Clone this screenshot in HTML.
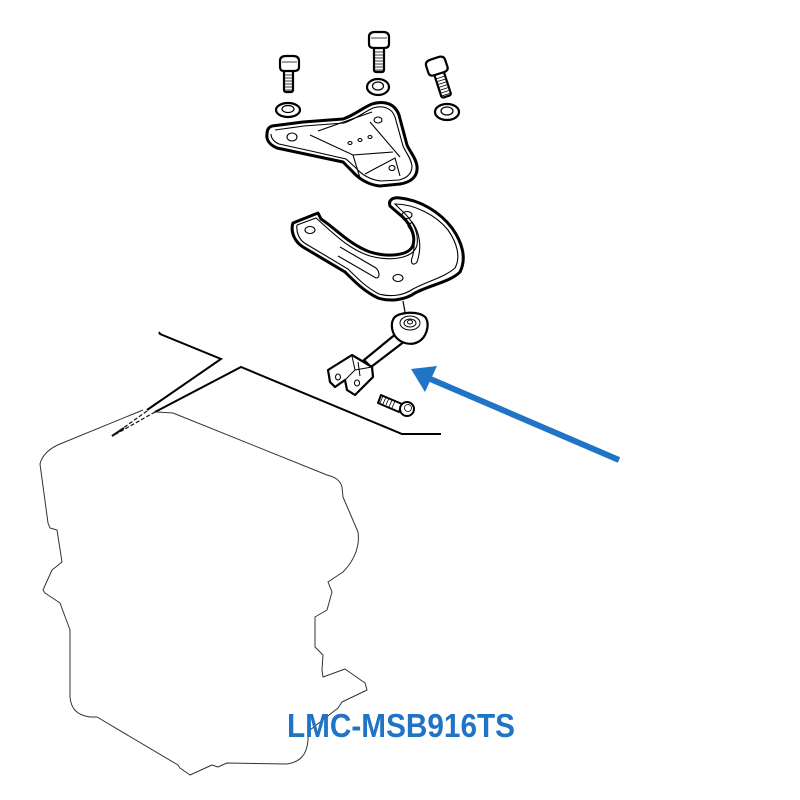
<!DOCTYPE html>
<html><head><meta charset="utf-8"><style>html,body{margin:0;padding:0;background:#fff}svg{display:block}</style></head>
<body>
<svg width="800" height="800" viewBox="0 0 800 800" xmlns="http://www.w3.org/2000/svg">
<rect width="800" height="800" fill="#fff"/>

<!-- Engine outline -->
<g fill="none" stroke="#333" stroke-width="1" stroke-linejoin="round">
<path d="M143,410 L60,444 C50,448 42,455 40,464 L48,523 L50,528 L57,530 L62,562 L52,570 L43,590 L45,593 L60,603 L70,630 L70,697 C71,708 76,715 90,717 L97,717 L178,765 L180,768 L190,775 L212,765 L218,767 L227,763 L287,764 C300,762 307,755 308,740 L308,733 L310,730 L338,708 L342,702 L367,690 L365,683 L345,669 L323,677 L322,670 L323,655 L315,647 L315,617 L327,610 L332,592 L328,582 L343,572 C355,560 360,545 358,532 L343,497 L342,487 C340,480 335,477 327,475 L173,413 L157,412"/>
</g>
<!-- dashed pointed lines -->
<g fill="none" stroke="#111" stroke-width="1.2">
<path d="M147,411 L112,436" stroke-dasharray="4,2"/>
<path d="M155,412 L116,434" stroke-dasharray="4,2"/>
<path d="M112,436 L124,428" stroke-width="2"/>
</g>

<!-- black lines -->
<g fill="none" stroke="#000" stroke-width="2" stroke-linejoin="miter">
<path d="M159,332 L160,334 L221,359 L147,410"/>
<path d="M155,412 L241,367 L402,434 L441,434"/>
</g>

<!-- Bolts -->
<g stroke="#000" stroke-width="2.2" fill="#fff" stroke-linejoin="round">
  <!-- bolt 1 -->
  <rect x="284" y="68" width="9" height="24" rx="2"/>
  <path d="M280,61 Q280,56 286,56 L293,56 Q299,56 299,61 L299,67 Q299,71 294,71 L284,71 Q280,71 280,67 Z"/>
  <!-- bolt 2 -->
  <rect x="374" y="46" width="10" height="26" rx="2"/>
  <path d="M369,37 Q369,32 375,32 L383,32 Q389,32 389,37 L389,44 Q389,48 384,48 L374,48 Q369,48 369,44 Z"/>
  <!-- bolt 3 -->
  <g transform="rotate(-18 437 67)">
    <rect x="432" y="72" width="10" height="26" rx="2"/>
    <path d="M427,63 Q427,58 433,58 L441,58 Q447,58 447,63 L447,70 Q447,74 442,74 L432,74 Q427,74 427,70 Z"/>
  </g>
</g>
<g stroke="#000" stroke-width="0.8">
  <path d="M285,75h7M285,78h7M285,81h7M285,84h7M285,87h7M285,90h7"/>
  <path d="M375,52h8M375,55h8M375,58h8M375,61h8M375,64h8M375,67h8M375,70h8"/>
  <g transform="rotate(-18 437 67)"><path d="M433,78h8M433,81h8M433,84h8M433,87h8M433,90h8M433,93h8M433,96h8"/></g>
  <path d="M282,62h15M371,38h16"/>
</g>

<!-- Washers -->
<g stroke="#000" stroke-width="2.2" fill="#fff">
  <ellipse cx="288" cy="110" rx="12" ry="7"/>
  <ellipse cx="378" cy="87" rx="11" ry="8"/>
  <ellipse cx="447" cy="112" rx="12" ry="8"/>
</g>
<g stroke="#000" stroke-width="1.2" fill="none">
  <ellipse cx="288" cy="109" rx="6" ry="3.5"/>
  <ellipse cx="378" cy="86" rx="5.5" ry="4"/>
  <ellipse cx="447" cy="111" rx="6" ry="4"/>
</g>

<!-- Upper bracket -->
<path d="M272,126 L303,122 L343,119 C355,115 362,108 372,104 C385,100 395,104 399,115 L407,145 C410,152 416,158 417,166 C418,176 412,182 400,184 L380,186 C368,185 358,178 352,171 L343,162 L310,155 L277,148 C270,145 266,140 267,134 C267,129 269,127 272,126 Z" fill="#fff" stroke="#000" stroke-width="3" stroke-linejoin="round"/>
<g fill="none" stroke="#000" stroke-width="1.1">
  <path d="M275,130 L304,126 L344,123 C356,119 364,112 373,108 C383,105 392,108 395,117 L403,146 C406,153 411,158 412,166 C412,174 407,178 399,180 L381,181 C370,180 361,174 356,168 L346,159 L311,151 L279,144 C274,142 271,138 271,134"/>
  <path d="M310,135 L353,155 L393,152"/>
  <path d="M370,122 L400,157"/>
  <path d="M353,155 L360,178"/>
  <path d="M365,174 L395,158 L400,176"/>
  <path d="M318,131 L372,112"/>
  <ellipse cx="292" cy="137" rx="5" ry="4"/>
  <ellipse cx="378" cy="120" rx="4" ry="3"/>
  <ellipse cx="350" cy="143" rx="2" ry="1.5"/>
  <ellipse cx="360" cy="140" rx="2" ry="1.5"/>
  <ellipse cx="370" cy="137" rx="2" ry="1.5"/>
  <ellipse cx="392" cy="168" rx="3" ry="2.5"/>
</g>

<!-- Lower bracket -->
<path d="M293,223 L318,213 L321,219 C335,228 350,245 370,252 C390,258 410,255 413,245 C416,235 410,222 398,213 L390,206 C388,200 393,197 400,198 C420,200 440,212 452,228 C462,242 467,258 460,272 C450,282 430,285 415,293 C405,300 390,302 378,298 C365,292 355,282 345,272 L303,247 C295,242 290,232 293,223 Z" fill="#fff" stroke="#000" stroke-width="3" stroke-linejoin="round"/>
<g fill="none" stroke="#000" stroke-width="1.1">
  <path d="M297,225 L316,218 C332,232 348,249 370,256 C392,262 414,258 417,245 C419,233 413,220 401,210 L395,204 C414,204 436,215 448,230 C457,243 461,257 455,268 C445,277 428,281 413,289 C403,296 390,297 379,294 C367,288 358,279 348,269 L306,244 C299,240 296,232 297,225"/>
  <path d="M340,247 L376,268 C380,272 380,278 376,278 L338,256"/>
  <path d="M412,222 C420,232 422,248 417,262 C414,266 410,264 412,258 C416,246 414,234 408,226 Z"/>
  <ellipse cx="310" cy="230" rx="5" ry="3.5"/>
  <ellipse cx="407" cy="215" rx="5" ry="3.5"/>
  <ellipse cx="398" cy="278" rx="5" ry="3.5"/>
</g>
<path d="M403,301 L405,312" stroke="#000" stroke-width="1.2"/>

<!-- Link rod -->
<g stroke="#000" stroke-width="2.2" fill="#fff" stroke-linejoin="round">
  <path d="M397,333 L364,360 L371,367 L405,341 Z"/>
  <path d="M328,370 L352,355 L372,367 L373,377 L355,395 L347,390 L345,380 L335,387 L330,382 Z"/>
  <path d="M394,318 C398,312 420,310 426,318 C430,326 426,338 418,342 C410,346 400,343 395,336 C391,330 391,322 394,318 Z"/>
</g>
<g fill="none" stroke="#000" stroke-width="1">
  <ellipse cx="410" cy="323" rx="10" ry="7"/>
  <ellipse cx="410" cy="323" rx="6" ry="4"/>
  <ellipse cx="410" cy="322" rx="2.5" ry="2"/>
  <path d="M352,356 L355,370 L345,380"/>
  <path d="M355,370 L372,367"/>
  <path d="M358,362 L360,376"/>
  <ellipse cx="338" cy="377" rx="2.5" ry="3"/>
  <ellipse cx="357" cy="383" rx="2.5" ry="3"/>
</g>

<!-- Small bolt -->
<g stroke="#000" stroke-width="2" fill="#fff">
  <path d="M381,395 L402,404 L399,412 L378,403 Z" stroke-linejoin="round"/>
  <circle cx="407" cy="409" r="7"/>
</g>
<g stroke="#000" stroke-width="0.8" fill="none">
  <path d="M383,396 l-3,7 M386,397 l-3,7 M389,398 l-3,7 M392,400 l-3,7 M395,401 l-3,7"/>
  <circle cx="408" cy="408" r="3.5"/>
</g>

<!-- Blue arrow -->
<line x1="428" y1="378" x2="619" y2="460" stroke="#1f74c6" stroke-width="6"/>
<polygon points="411,369 437,366 425,392" fill="#1f74c6"/>

<!-- Label -->
<text x="287" y="737" font-family="Liberation Sans, sans-serif" font-weight="bold" font-size="33" fill="#1f74c6" textLength="228" lengthAdjust="spacingAndGlyphs">LMC-MSB916TS</text>
</svg>
</body></html>
